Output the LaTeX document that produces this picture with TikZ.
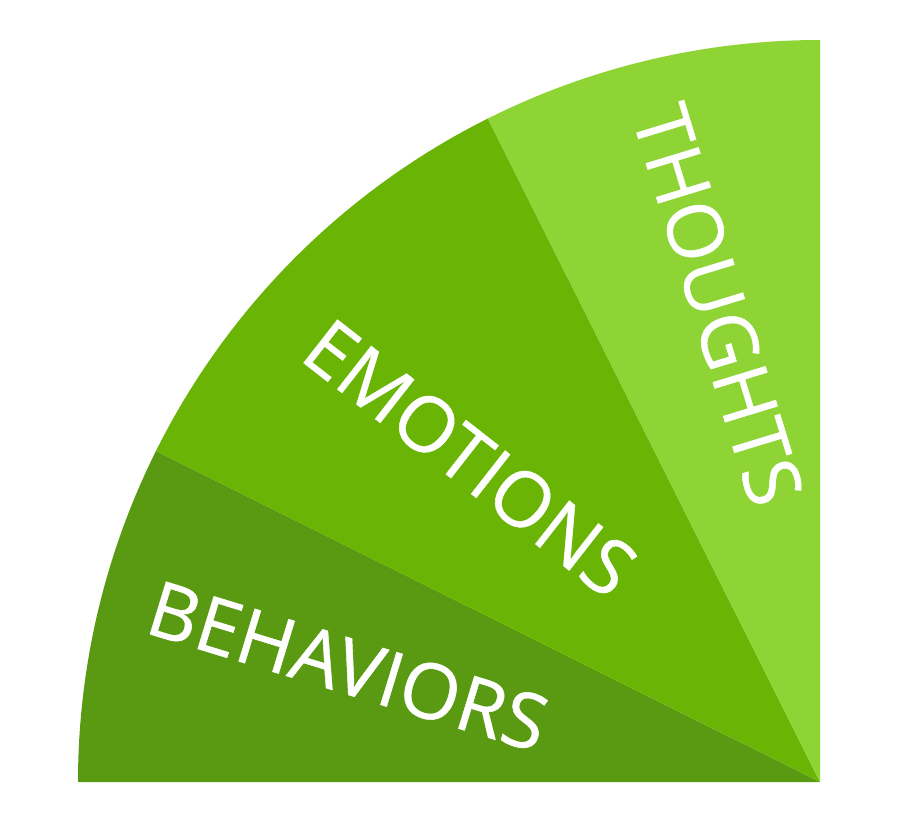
\documentclass[tikz,border=0pt]{standalone}
\usepackage{fontspec}
\setmainfont{Open Sans}[FakeBold=0.6]
\begin{document}
\begin{tikzpicture}[x=1pt,y=1pt,
  lbl/.style={text=white,font=\fontsize{77}{77}\selectfont,inner sep=0pt}]
\useasboundingbox (0,0) rectangle (900,-824);
\fill[white] (0,0) rectangle (900,-824);
\coordinate (c) at (820,-782);
\fill[color={rgb,255:red,90;green,154;blue,18}] (c) -- ++(180:742) arc (180:153.5:742) -- cycle;
\fill[color={rgb,255:red,106;green,180;blue,6}] (c) -- ++(153.5:742) arc (153.5:116.6:742) -- cycle;
\fill[color={rgb,255:red,142;green,212;blue,52}] (c) -- ++(116.6:742) arc (116.6:90:742) -- cycle;
\node[lbl,rotate=-17] (b) at (348,-666) {BEHAVIORS};
\node[lbl,rotate=-38] (e) at (470,-458) {EMOTIONS};
\node[lbl,rotate=-73] (t) at (718,-305) {THOUGHTS};
\end{tikzpicture}
\end{document}
